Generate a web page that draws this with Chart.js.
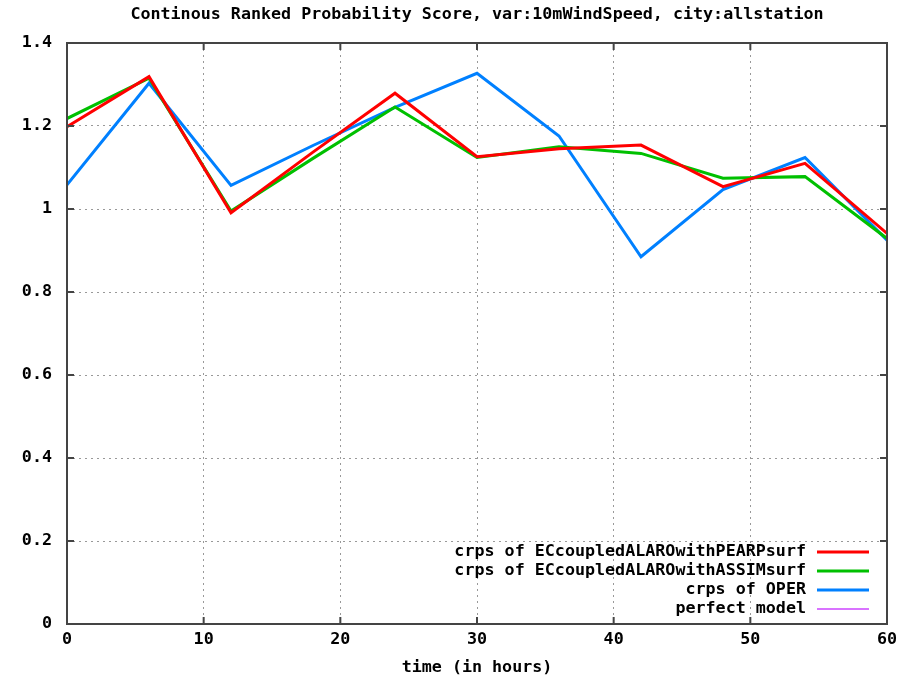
<!DOCTYPE html>
<html>
<head>
<meta charset="utf-8">
<script src="https://cdn.jsdelivr.net/npm/chart.js@4/dist/chart.umd.min.js"></script>
<style>
  html, body { margin: 0; padding: 0; background: #fff; }
  #wrap { width: 914px; height: 678px; }
</style>
</head>
<body>
<div id="wrap"><canvas id="crps"></canvas></div>
<script>
// forecast lead time (hours)
const hours = [0, 6, 12, 18, 24, 30, 36, 42, 48, 54, 60];

const pearpSurf = [1.198, 1.319, 0.991, 1.137, 1.279, 1.126, 1.145, 1.154, 1.054, 1.110, 0.941];
const assimSurf = [1.218, 1.315, 0.995, 1.122, 1.246, 1.124, 1.150, 1.134, 1.074, 1.078, 0.929];
const oper      = [1.058, 1.303, 1.057, 1.153, 1.245, 1.327, 1.176, 0.885, 1.047, 1.124, 0.925];
const perfect   = [0, 0, 0, 0, 0, 0, 0, 0, 0, 0, 0];

const yTickLabels = ['0', '0.2', '0.4', '0.6', '0.8', '1', '1.2', '1.4'];
const xTickLabels = ['0', '10', '20', '30', '40', '50', '60'];

const chartTitle = 'Continous Ranked Probability Score, var:10mWindSpeed, city:allstation';

const MONO = '"DejaVu Sans Mono", monospace';
const FSIZE = 16.7;

function pts(vals) {
  return hours.map((h, i) => ({ x: h, y: vals[i] }));
}

// gnuplot style frame: box, inward ticks on all four sides, title centred on the plot,
// legend inside bottom-right
const framePlugin = {
  id: 'frame',
  afterDatasetsDraw(chart) {
    const ctx = chart.ctx;
    const a = chart.chartArea;
    const xs = chart.scales.x, ys = chart.scales.y;
    ctx.save();
    ctx.strokeStyle = '#444';
    ctx.lineWidth = 2;
    ctx.strokeRect(a.left, a.top, a.right - a.left, a.bottom - a.top);
    ctx.beginPath();
    const len = 7;
    ys.ticks.forEach(t => {
      const y = ys.getPixelForValue(t.value);
      ctx.moveTo(a.left, y); ctx.lineTo(a.left + len, y);
      ctx.moveTo(a.right, y); ctx.lineTo(a.right - len, y);
    });
    xs.ticks.forEach(t => {
      const x = xs.getPixelForValue(t.value);
      ctx.moveTo(x, a.bottom); ctx.lineTo(x, a.bottom - len);
      ctx.moveTo(x, a.top); ctx.lineTo(x, a.top + len);
    });
    ctx.stroke();

    ctx.font = 'bold ' + FSIZE + 'px ' + MONO;
    ctx.fillStyle = '#000';
    ctx.textBaseline = 'middle';
    ctx.textAlign = 'center';
    ctx.fillText(chartTitle, (a.left + a.right) / 2, 15);

    // legend
    const sets = chart.data.datasets;
    const textRight = a.right - 81;
    const lineL = a.right - 70, lineR = a.right - 18;
    let y = a.bottom - 15 - (sets.length - 1) * 19;
    ctx.textAlign = 'right';
    sets.forEach(ds => {
      ctx.fillStyle = '#000';
      ctx.fillText(ds.label, textRight, y);
      ctx.beginPath();
      ctx.strokeStyle = ds.borderColor;
      ctx.lineWidth = ds.borderWidth;
      ctx.moveTo(lineL, y); ctx.lineTo(lineR, y);
      ctx.stroke();
      y += 19;
    });
    ctx.restore();
  }
};

new Chart(document.getElementById('crps'), {
  type: 'line',
  data: {
    datasets: [
      { label: 'crps of ECcoupledALAROwithPEARPsurf', data: pts(pearpSurf), borderColor: '#ff0000', borderWidth: 3 },
      { label: 'crps of ECcoupledALAROwithASSIMsurf', data: pts(assimSurf), borderColor: '#00c000', borderWidth: 3 },
      { label: 'crps of OPER', data: pts(oper), borderColor: '#0080ff', borderWidth: 3 },
      { label: 'perfect model', data: pts(perfect), borderColor: '#cc44ff', borderWidth: 1.5 }
    ]
  },
  options: {
    responsive: true,
    maintainAspectRatio: false,
    animation: false,
    elements: { point: { radius: 0 }, line: { tension: 0 } },
    layout: { padding: { left: 0, right: 27, top: 43, bottom: 0 } },
    plugins: {
      legend: { display: false },
      tooltip: { enabled: false },
      title: { display: false }
    },
    scales: {
      x: {
        type: 'linear',
        min: 0, max: 60,
        ticks: {
          stepSize: 10,
          color: '#000',
          font: { family: MONO, size: FSIZE, weight: 'bold' },
          padding: 6,
          maxRotation: 0,
          callback: (v) => xTickLabels[Math.round(v / 10)]
        },
        grid: { color: '#999', lineWidth: 1, drawTicks: false, tickLength: 0 },
        border: { display: false, dash: [2, 4] },
        title: {
          display: true,
          text: 'time (in hours)',
          color: '#000',
          font: { family: MONO, size: FSIZE, weight: 'bold' },
          padding: { top: 4, bottom: 0 }
        },
        afterFit(s) { s.height = 54; }
      },
      y: {
        min: 0, max: 1.4,
        ticks: {
          stepSize: 0.2,
          color: '#000',
          font: { family: MONO, size: FSIZE, weight: 'bold' },
          padding: 15,
          callback: (v) => yTickLabels[Math.round(v / 0.2)]
        },
        grid: { color: '#999', lineWidth: 1, drawTicks: false, tickLength: 0 },
        border: { display: false, dash: [2, 4] },
        afterFit(s) { s.width = 67; }
      }
    }
  },
  plugins: [framePlugin]
});
</script>
</body>
</html>
